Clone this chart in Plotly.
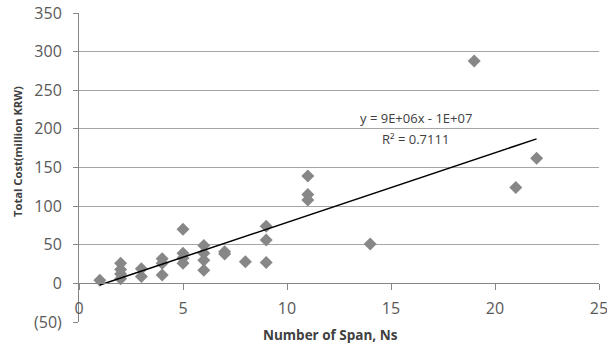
import numpy as np
import plotly.graph_objects as go

# Data
spans = [1, 2, 2, 2, 2, 3, 3, 4, 4, 4, 5, 5, 5, 5, 6, 6, 6, 6, 7, 7, 8,
         9, 9, 9, 11, 11, 11, 14, 19, 21, 22]
cost = [4, 26, 18, 12, 6, 19, 9, 32, 26, 11, 70, 39, 33, 26, 49, 39, 30, 17, 38, 41, 28,
        74, 56, 27, 139, 115, 108, 51, 288, 124, 162]

y_tickvals = [-50, 0, 50, 100, 150, 200, 250, 300, 350]
y_ticktext = ["(50)", "0", "50", "100", "150", "200", "250", "300", "350"]
x_tickvals = [0, 5, 10, 15, 20, 25]
x_ticktext = ["0", "5", "10", "15", "20", "25"]

eq_text = "y = 9E+06x - 1E+07"
r2_text = "R² = 0.7111"

slope, intercept = np.polyfit(spans, cost, 1)
tx = [min(spans), max(spans)]
ty = [slope * v + intercept for v in tx]

FONT = "Open Sans"
L, R, T, B = 79, 8, 13, 29
PW, PH = 607 - L - R, 351 - T - B

fig = go.Figure()
fig.add_trace(go.Scatter(x=spans, y=cost, mode="markers",
                         marker=dict(symbol="diamond", size=10, color="#878787",
                                     line=dict(width=0)),
                         showlegend=False))
fig.add_trace(go.Scatter(x=tx, y=ty, mode="lines",
                         line=dict(color="black", width=1.5), showlegend=False))

fig.update_layout(
    width=607, height=351,
    margin=dict(l=L, r=R, t=T, b=B),
    paper_bgcolor="white", plot_bgcolor="white",
    font=dict(family=FONT, size=16, color="#595959"),
    xaxis=dict(range=[0, 25], tickvals=x_tickvals, ticktext=x_ticktext,
               showgrid=False, zeroline=False, anchor="free", position=0.125,
               showline=True, linecolor="#868686", linewidth=1,
               ticks="outside", ticklen=6, tickcolor="#868686",
               ticklabelstandoff=4, ticklabeloverflow="allow", automargin=False,
               tickfont=dict(size=16, color="#595959")),
    yaxis=dict(range=[-50, 350], tickvals=y_tickvals, ticktext=y_ticktext,
               showgrid=True, gridcolor="#a6a6a6", gridwidth=1, zeroline=False,
               showline=True, linecolor="#868686", linewidth=1,
               ticks="outside", ticklen=5, tickcolor="#868686",
               ticklabelstandoff=8, automargin=False,
               tickfont=dict(size=16, color="#595959")),
    annotations=[
        dict(text="Number of Span, Ns", xref="paper", yref="paper",
             x=(330 - L) / PW, y=(322 - 335) / PH, showarrow=False,
             xanchor="center", yanchor="middle",
             font=dict(family=FONT, size=13.5, color="#404040", weight="bold")),
        dict(text="Total Cost(million KRW)", xref="paper", yref="paper",
             x=(17 - L) / PW, y=(322 - 152) / PH, showarrow=False, textangle=-90,
             xanchor="center", yanchor="middle",
             font=dict(family=FONT, size=11.2, color="#404040", weight="bold")),
        dict(text=eq_text, x=16.2, y=214.6, showarrow=False,
             xanchor="center", yanchor="middle",
             font=dict(family=FONT, size=13, color="#404040")),
        dict(text=r2_text, x=16.2, y=187.2, showarrow=False,
             xanchor="center", yanchor="middle",
             font=dict(family=FONT, size=13, color="#404040")),
    ],
)

fig.write_html("out.html", config={"displayModeBar": False},
               post_script="document.body.style.margin='0';document.body.style.overflow='hidden';")
